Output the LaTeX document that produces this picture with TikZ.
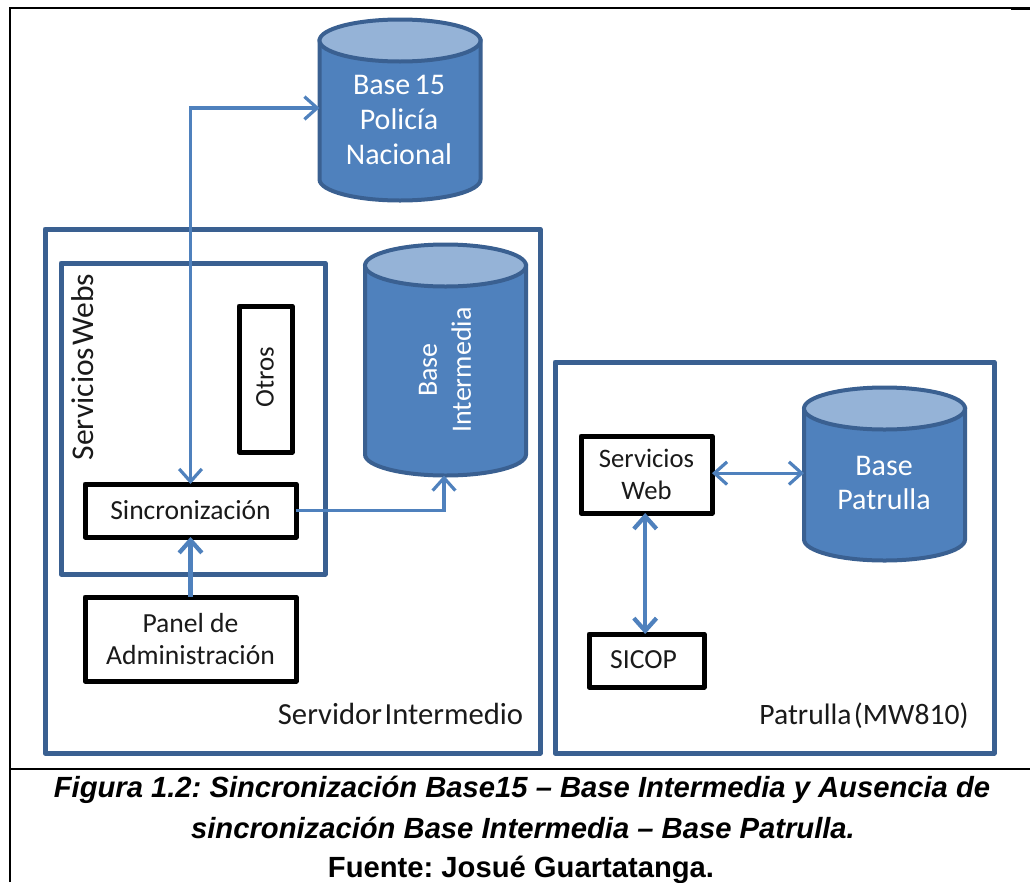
\documentclass[tikz,border=0pt]{standalone}
\usepackage{fontspec}
\setmainfont{Carlito}
\newfontfamily\capfont{Liberation Sans}
\usetikzlibrary{arrows.meta}
\definecolor{shapeblue}{HTML}{4F81BD}
\definecolor{shapedark}{HTML}{3A6091}
\definecolor{shapetop}{HTML}{95B3D7}
\definecolor{txt}{HTML}{1A1A1A}
\frenchspacing
\newcommand{\szA}{\fontsize{22.5pt}{26pt}\selectfont\spaceskip=0.14em\relax}
\newcommand{\szAr}{\fontsize{21pt}{25.5pt}\selectfont}
\newcommand{\szB}{\fontsize{20.7pt}{24pt}\selectfont}
\newcommand{\szE}{\fontsize{20pt}{24pt}\selectfont}
\newcommand{\szO}{\fontsize{20.2pt}{24pt}\selectfont}
\newcommand{\szC}{\fontsize{23pt}{24pt}\selectfont\spaceskip=0.08em\relax}
\newcommand{\szF}{\fontsize{22.2pt}{24pt}\selectfont\spaceskip=0.08em\relax}
\newcommand{\szW}{\fontsize{23.7pt}{24pt}\selectfont\spaceskip=0.08em\relax}
\newcommand{\szD}{\fontsize{21.9pt}{28.5pt}\selectfont\capfont\bfseries}
\tikzset{
  sized/.style 2 args={minimum width=#1*0.75pt,minimum height=#2*0.75pt,inner sep=0pt,outer sep=0pt},
  groupbox/.style={draw=shapedark,line width=3.75pt,fill=none,line join=round},
  blackbox/.style={draw=black,line width=3.75pt,fill=white,line join=round,align=center,text=txt},
  dbline/.style={draw=shapedark,line width=3pt},
  dbtext/.style={text=white,align=center,font=\szA},
  thin link/.style={draw=shapeblue,line width=2.4pt},
  thick link/.style={draw=shapeblue,line width=3.2pt},
  barb/.tip={Straight Barb[length=9.5pt,width=17pt]},
  frameline/.style={draw=black,line width=1.5pt},
  heavyline/.style={draw=black,line width=2pt},
}
% name, centre x, centre y, width, height
\newcommand{\dbdraw}[5]{%
  \pgfmathsetmacro{\dbl}{#2-#4/2}%
  \pgfmathsetmacro{\dbt}{#3-#5/2+21}%
  \pgfmathsetmacro{\dbb}{#3+#5/2-21}%
  \pgfmathsetmacro{\dbr}{#4/2}%
  \node[sized={#4}{#5}] (#1) at (#2,#3) {};
  \path[fill=shapeblue,dbline] (\dbl,\dbt) -- (\dbl,\dbb)
     arc[start angle=180,end angle=0,x radius=\dbr,y radius=21] -- (#2+\dbr,\dbt) -- cycle;
  \path[fill=shapetop,dbline] (#2,\dbt) ellipse[x radius=\dbr,y radius=21];
}
\begin{document}
\begin{tikzpicture}[x=0.75pt,y=-0.75pt]
\useasboundingbox (0,0) rectangle (1030,882);
% page frame
\draw[frameline] (10,882) -- (10,7.5) -- (1030,7.5);
\draw[heavyline] (9,8) -- (26,8);
\draw[heavyline] (1011,8.4) -- (1030,8.4);
\draw[frameline,line width=2pt] (10,769) -- (1030,769);
% group boxes
\node[groupbox,sized={495}{524}] (srv) at (292.5,491) {};
\node[groupbox,sized={264}{311}] (ws) at (193,418.5) {};
\node[groupbox,sized={439}{391}] (pat) at (774.5,557.5) {};
% databases
\dbdraw{b15}{400}{110}{161}{181}
\dbdraw{bi}{445.5}{360}{161}{231}
\dbdraw{bp}{884.5}{474}{161}{173}
% boxes
\node[blackbox,sized={53}{146}] (otros) at (265.5,379) {};
\node[blackbox,sized={211}{53},font=\szB] (sinc) at (190.5,510.5) {Sincronización};
\node[blackbox,sized={211}{84},font=\szB] (panel) at (190.5,639) {Panel de\\Administración};
\node[blackbox,sized={131}{77},font=\szE] (sw) at (646.5,474.5) {Servicios\\Web};
\node[blackbox,sized={115}{53}] (sicop) at (646.5,660.5) {};
% texts
\node[text=txt,font=\szO,rotate=90,inner sep=0pt] (otrostxt) at (265,377.5) {Otros};
\node[text=txt,font=\szW,rotate=90,inner sep=0pt] (wstxt) at (83,367) {Servicios Webs};
\node[text=txt,font=\szB,inner sep=0pt] (sicoptxt) at (643.5,660) {SICOP};
\node[text=txt,font=\szC,inner sep=0pt] (srvtxt) at (400.5,714) {Servidor Intermedio};
\node[text=txt,font=\szF,inner sep=0pt] (pattxt) at (864,716) {Patrulla (MW810)};
\node[dbtext,inner sep=0pt] (b15txt) at (399,120) {Base 15\\Policía\\Nacional};
\node[dbtext,font=\szAr,rotate=90,inner sep=0pt] (bitxt) at (445,370) {Base\\Intermedia};
\node[dbtext,inner sep=0pt] (bptxt) at (884,483) {Base\\Patrulla};
% connectors
\draw[thin link,{barb}-{barb}] (sinc.north) |- ([yshift=1.5pt]b15.west);
\draw[thin link,-{barb}] (sinc.east) -| (bi.south -| 444,0);
\draw[thick link,-{barb}] (panel.north) -- (sinc.south);
\draw[thin link,{barb}-{barb}] ([yshift=1pt]sw.east) -- ([yshift=1pt]sw.east -| bp.west);
\draw[thick link,{barb}-{barb}] ([xshift=-1pt]sw.south) -- ([xshift=-1pt]sicop.north);
% caption
\node[font=\szD\itshape,text=black,inner sep=0pt] (cap1) at (522,790) {Figura 1.2: Sincronización Base15 – Base Intermedia y Ausencia de};
\node[font=\szD\itshape,text=black,inner sep=0pt] (cap2) at (523,828) {sincronización Base Intermedia – Base Patrulla.};
\node[font=\szD,text=black,inner sep=0pt] (cap3) at (521,870) {Fuente: Josué Guartatanga.};
\end{tikzpicture}
\end{document}
